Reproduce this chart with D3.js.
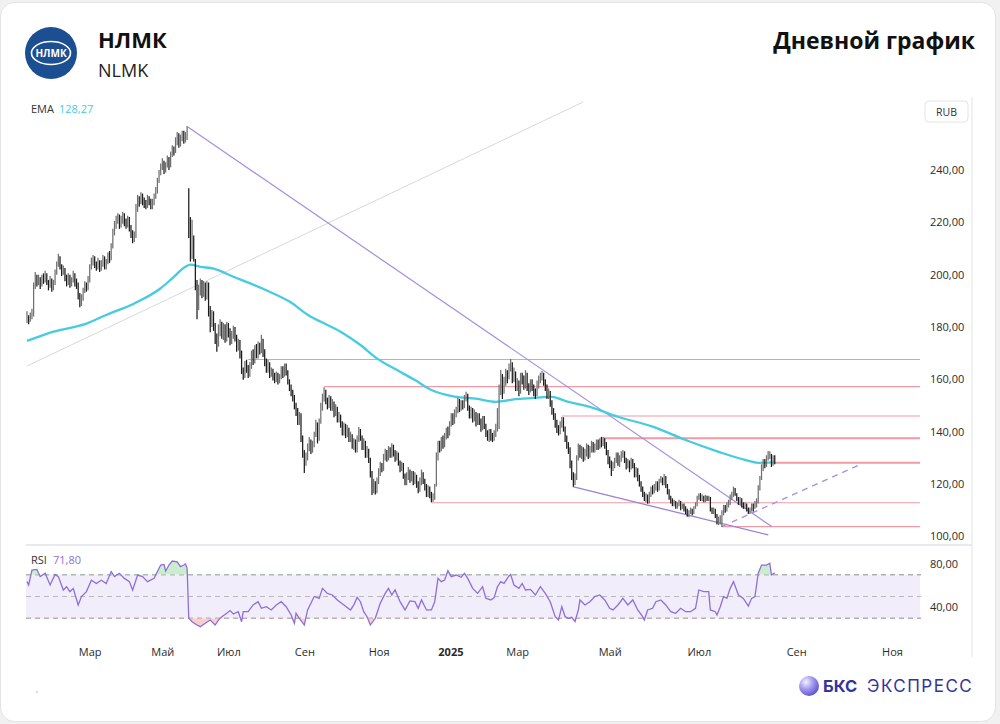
<!DOCTYPE html>
<html>
<head>
<meta charset="utf-8">
<script src="https://cdn.jsdelivr.net/npm/d3@7"></script>
<style>
  html, body { margin: 0; padding: 0; background: #f1f1f1; }
  svg { display: block; font-family: "Open Sans", "Noto Sans", sans-serif; }
</style>
</head>
<body>
<svg id="chart" width="1000" height="724"></svg>
<script>
// daily bars, NLMK, one entry per session
const closes = [
  183, 182.5, 184, 185, 196, 199, 197, 198.5, 196, 199,
  198, 200, 197, 195.5, 198, 194.5, 197, 201, 204, 206.5,
  203, 201, 202, 199, 197, 199.5, 196.5, 198, 200, 197,
  196, 192, 189, 191, 194, 196, 195, 198, 203, 205,
  206, 204, 203, 205, 202.5, 204, 206, 203, 205, 207,
  206, 211, 216, 219, 221, 222, 219, 221, 223, 220,
  219, 221, 218, 216, 213.5, 215, 226, 229, 228, 230,
  228, 227, 226.5, 229, 228, 226, 227.5, 230, 232, 236,
  239, 241, 243, 240, 242, 244, 241.5, 246, 248, 247,
  251, 253, 250, 252, 254, 251.5, 253, 254, 216, 208,
  213, 208, 196, 189, 194, 197, 193, 196, 192, 195,
  186, 182, 185, 180, 176, 174, 178, 181, 177, 179,
  176, 180, 178, 175, 177, 179, 176, 172, 174, 170,
  163, 161, 166, 164, 162, 165, 170, 167, 172, 169,
  173, 171, 175, 170, 167, 164, 166, 162, 163, 161,
  160, 162, 159, 161, 164, 162, 165, 163, 159, 157,
  155, 153, 150, 148, 144, 146, 137, 132, 128, 130,
  134, 136, 133, 135, 139, 143, 137, 144, 150, 153,
  155, 152, 150, 153, 149, 151, 147, 149, 145, 146,
  143, 140, 142, 139, 141, 137, 138, 135, 136, 133,
  137, 140, 138, 134, 136, 131, 133, 129, 124, 118,
  120, 117, 121, 124, 127, 126, 130, 132, 130, 133,
  131, 134, 132, 130, 131, 128, 126, 127, 123, 121,
  123, 125, 122, 124, 121, 123, 120, 118, 121, 124,
  121, 119, 116, 118, 116, 114, 115, 119, 131, 135,
  133, 137, 135, 138, 141, 139, 143, 146, 144, 147,
  148, 152, 149, 151, 150, 153, 154, 149, 146, 148,
  145, 147, 143, 146, 144, 141, 145, 142, 139, 138,
  140, 138, 137, 139, 142, 148, 156, 160, 157, 159,
  162, 161, 165, 166, 160, 163, 157, 159, 155, 161,
  160, 158, 162, 157, 156, 159, 157, 155, 154, 158,
  160, 161, 162, 159, 157, 154, 155, 151, 148, 146,
  143, 141, 140, 143, 145, 141, 137, 135, 133, 128,
  123, 120, 122, 130, 134, 131, 133, 130, 132, 134,
  131, 133, 135, 133, 134, 136, 134, 137, 135, 137,
  135, 132, 129, 128, 126, 127, 129, 131, 128, 130,
  131, 132, 129, 127, 128, 126, 129, 127, 124, 125,
  122, 120, 118, 116, 114, 115, 113, 116, 118, 117,
  119, 120, 118, 121, 122, 120, 123, 119, 117, 115,
  114, 112.5, 113, 111.5, 112, 113, 111, 112, 110.5, 110,
  108.5, 109, 110, 109, 111, 112, 115, 116, 114.5, 115,
  114, 115, 114.5, 115, 110, 109.5, 110, 108, 105.5, 106,
  107, 109, 111, 110, 112, 113, 115, 116, 118, 116,
  114, 113, 114, 112, 111.5, 112, 110.5, 109, 110, 111.5,
  111, 112, 113, 118, 122, 126, 128, 127, 130, 131,
  131, 127.5, 130, 129
];

const highs = [
  186, 184.5, 185.5, 187, 197, 201, 200, 200, 199, 200,
  200.5, 201.5, 200.5, 198, 199.5, 198.5, 198, 202, 205, 208,
  207, 204, 203.5, 202.5, 200, 200.5, 200, 199, 201.5, 200.5,
  198.5, 197, 193, 192.5, 195, 197.5, 197, 199.5, 204, 206.5,
  207.5, 207, 205, 206.5, 205.5, 205.5, 207.5, 207, 206, 208.5,
  209, 212, 217.5, 220.5, 222.5, 223.5, 223, 222.5, 224, 223.5,
  221.5, 222.5, 222, 219, 217, 216.5, 227, 230.5, 230, 231.5,
  231, 229.5, 228.5, 230.5, 230, 229, 229, 231, 233.5, 237,
  240, 242.5, 244.5, 243.5, 243, 245.5, 245, 247, 249.5, 249,
  252.5, 254.5, 254, 253.5, 255, 255, 254.5, 256.8, 233, 222,
  221, 215, 206, 198, 196, 198.5, 198, 197.5, 197, 197.5,
  197, 188, 186.5, 186, 181.5, 177.5, 181, 183, 182, 181.5,
  181, 182, 181.5, 179.5, 178.5, 180.5, 180, 177, 175.5, 175,
  171, 164.5, 167, 167.5, 165.5, 166.5, 171, 171.5, 173, 173.5,
  174.5, 174, 177, 175.5, 171.5, 168, 167.5, 166.5, 164.5, 164,
  162.5, 163, 162.5, 162, 165, 165, 166, 166, 163.5, 160,
  158, 156, 154, 151, 149, 147.5, 147, 138.5, 133, 132,
  135.5, 138, 137, 136.5, 140, 144.5, 143.5, 145, 151, 154.5,
  157, 156, 153, 154, 153.5, 152.5, 151.5, 150.5, 149.5, 147.5,
  146.5, 144, 143.5, 143, 142.5, 141.5, 140, 139, 137.5, 137,
  138.5, 141.8, 141, 138.5, 137.5, 136.5, 134.5, 133.5, 130, 125,
  122, 121, 122.5, 126, 128.5, 128, 131.5, 133.5, 133, 134.5,
  134, 135.6, 135, 133, 132.5, 132, 129, 128.5, 128, 124,
  124.5, 126.5, 125.5, 125, 125, 124.5, 123.5, 121, 122.5, 125.5,
  124.5, 122, 120, 119.5, 119, 117, 116.5, 120, 132, 136.5,
  136.5, 138, 138.5, 139.5, 141.5, 142, 144, 147, 147, 148.5,
  149.5, 153, 152.5, 152, 152, 154, 155.2, 154.5, 150, 149.5,
  149, 148.5, 147.5, 147, 147, 145, 146, 146, 143, 140.5,
  141, 141, 139.5, 140.5, 143, 149, 158, 163.6, 162, 161,
  164, 163.5, 166, 167.8, 166.5, 164.5, 163, 160.5, 159.5, 162.5,
  162.5, 161.5, 163.5, 162.5, 158.5, 160, 160, 158, 156.5, 159.5,
  161.5, 162.5, 163.2, 162.5, 160, 158, 156.5, 155.5, 152, 149,
  147, 144.5, 142.5, 144, 145.6, 145.5, 142, 138.5, 136, 134,
  129, 124.5, 124, 131, 135.5, 135, 134.5, 134, 133.5, 135.5,
  135, 134.5, 136.5, 136, 135.5, 137, 137, 137.5, 138, 138,
  137.5, 136, 133, 130.5, 129, 128.5, 130, 132, 132, 131,
  132.5, 133, 132.5, 130, 129.5, 129, 130, 129.5, 128, 126.5,
  126, 123.5, 121, 119, 117, 116.5, 116, 117, 119, 119.5,
  120, 121, 121, 122, 123, 122.5, 123.8, 123, 120, 118,
  115.5, 114.5, 114, 113.5, 113, 114, 113.5, 112.5, 112.5, 111.5,
  110.5, 110, 111, 110.5, 111.5, 113, 115.5, 116.4, 116.5, 116,
  115.5, 115.8, 115.5, 115.5, 115, 111, 111, 110.5, 108.5, 107.5,
  108, 110, 112, 112, 113, 114, 116, 117, 119, 118.5,
  116.5, 115, 115, 114.5, 113, 113, 112.5, 111, 111, 112.5,
  112.5, 113.5, 114.5, 119.5, 123, 127.5, 129.5, 129.5, 131, 132.6,
  132.5, 131.5, 131, 131
];

const lows = [
  181.5, 181, 182, 183, 184, 194.5, 195.5, 196, 194.5, 195.5,
  196.5, 197, 196, 194, 195, 193.5, 194, 196, 200, 203,
  202, 199.5, 200, 197.5, 195.5, 196, 195, 195.5, 197, 195.5,
  194.5, 190.5, 187.5, 188, 190, 193, 193.5, 194, 197, 202,
  203.5, 202.5, 201.5, 202, 201, 201.5, 203, 202, 202, 204,
  204.5, 205.5, 210, 215, 217.5, 219.5, 217.5, 218, 219.5, 218.5,
  217.5, 218, 216.5, 214, 212, 212.5, 214, 224, 226, 227,
  226.5, 225.5, 225, 225.5, 226.5, 225, 225, 226.5, 229, 231,
  235, 238, 240, 238.5, 239, 241, 240, 241, 245, 245.5,
  246.5, 249.5, 248.5, 249, 251, 250, 250.5, 251.5, 214, 205,
  206, 205, 194, 183, 186.5, 192, 191, 191.5, 190, 190.5,
  184, 178, 180, 178.5, 173.5, 170.5, 172.5, 176.5, 175.5, 175,
  174, 174.5, 176, 173, 173.5, 175.5, 174.5, 170.5, 171, 168,
  162, 159.8, 160.5, 162.5, 160.5, 161, 164, 165.5, 166, 168,
  168, 169.5, 170, 168.5, 165, 162.5, 162.5, 160.5, 161, 159.5,
  158.5, 159, 158, 158.5, 160, 160.5, 161, 161.5, 158, 155.5,
  153.5, 151.5, 148.5, 146, 142.5, 142.5, 136, 130, 124.2, 127,
  129, 132.5, 131.5, 132, 134, 138, 135.5, 136.5, 143, 148,
  151.5, 150.5, 148.5, 149, 148, 148, 145.5, 146, 143.5, 143.5,
  141.5, 138.5, 138.5, 137.5, 138, 136, 136, 133.5, 133, 132,
  132, 136, 136.5, 133, 133, 130, 130, 128, 122.5, 115.8,
  116.5, 116, 116.5, 120, 123, 124.5, 125, 129, 128.5, 129,
  130, 130, 130.5, 128.5, 129, 127, 124.5, 125, 122, 119.5,
  119.5, 121.5, 120.5, 121, 119.5, 120, 118.5, 116.5, 117, 119.5,
  120, 117.5, 115, 115, 114.5, 113, 113.2, 114, 119, 129,
  132, 132.5, 133.5, 134, 137, 137.5, 138.5, 142, 142.5, 143,
  145.5, 147, 147.5, 148, 148.5, 149, 151.5, 148, 145, 145,
  143.5, 144, 142, 142.5, 142.5, 140, 140.5, 141, 138, 136.5,
  136, 136.5, 136, 136.5, 138, 140, 141, 154, 152.5, 154.5,
  157.5, 158.5, 160, 163, 158.5, 159, 155.5, 155.5, 153.5, 154.5,
  158, 156, 156.5, 155.5, 154, 155, 155.5, 153.5, 152.5, 153.5,
  156.5, 158.5, 159.5, 157.5, 155.5, 152.5, 152.5, 149.5, 146.5, 144.5,
  141.5, 139.5, 138.5, 139, 141.5, 140, 136, 133.5, 131.5, 126,
  121.5, 119, 119.5, 121.5, 129, 130, 129.5, 128.5, 129, 130.5,
  129.5, 130, 132, 132, 132, 133, 133, 133.5, 134, 134.5,
  133.5, 131, 127.5, 126, 123, 125, 126, 128, 127, 126.5,
  128.5, 130, 128, 125.5, 126, 124.5, 125.5, 126, 122.5, 122.5,
  121, 119, 117, 115, 113.5, 113, 112.4, 112.5, 115, 116,
  116.5, 117.5, 117, 117.5, 120.5, 119.5, 119.5, 118.5, 116, 114,
  112.5, 111.5, 111.5, 110.5, 110.5, 111.5, 110, 110.5, 109.5, 108.5,
  107.5, 107.3, 108.5, 108, 108.5, 110.5, 111.5, 114, 113.5, 113.5,
  113, 113, 113.5, 113.5, 109.5, 108.5, 108.5, 107, 104.5, 104.3,
  104.5, 103.6, 108, 109, 109.5, 111, 112, 114, 115, 115.5,
  113.5, 112, 112, 111, 110.5, 110.5, 109.5, 108.5, 108.5, 109.5,
  109.5, 110.5, 111, 112.5, 117.5, 121.5, 125, 126, 126.5, 129,
  129.5, 126.5, 127, 127.5
];

// EMA readings [bar, value]
const emaPoints = [
  [0, 174.7], [11, 177.2], [16, 178.2], [36, 181.3], [48, 184.6], [65, 189], [81, 194.8],
  [88, 198.6], [96, 203], [99, 203.8], [105, 203], [113, 202.3], [125, 199.2], [143, 194.6],
  [159, 189.7], [172, 183.9], [178, 182], [190, 178.2], [202, 173.1], [212, 168], [226, 162.9],
  [235, 159.7], [245, 155.9], [259, 153.4], [272, 152.6], [284, 151.4], [296, 152.4],
  [308, 152.9], [317, 153.4], [328, 151.4], [341, 149.5], [358, 145.7], [379, 141.9],
  [399, 136.8], [419, 132.3], [435, 129.2], [443, 128.1], [453, 128.27]
];

// RSI readings [bar, value]
const rsiPoints = [
  [0, 63.7], [1, 60.6], [3, 74.4], [6, 75], [8, 68.3], [11, 71.4], [14, 60.6], [17, 70.4], [19, 68.3],
  [22, 56], [24, 59], [26, 54.5], [28, 57.5], [31, 42.2], [33, 50], [36, 54.5], [39, 65], [42, 62],
  [45, 65], [48, 62], [51, 73], [53, 68.3], [56, 71.4], [59, 66.7], [62, 63.7], [64, 56], [67, 69.8],
  [70, 68.3], [73, 63.7], [77, 66.7], [79, 73], [81, 79], [83, 79.6], [84, 73.5], [86, 79], [88, 82.7],
  [91, 82], [93, 77.5], [95, 79], [96, 80], [97, 76], [98, 29.9], [100, 26.8], [103, 23.7], [105, 22.2],
  [108, 25.3], [111, 28.3], [114, 23.7], [116, 28.3], [118, 31.4], [121, 34.5], [123, 37], [125, 33.9],
  [128, 36], [130, 26.8], [131, 36], [134, 36], [137, 42.2], [140, 45.2], [142, 39.1], [145, 40.6],
  [148, 37.6], [151, 42.2], [154, 45.2], [157, 40.6], [160, 33], [162, 25.3], [163, 34.5], [165, 29.9],
  [168, 23.7], [170, 37.6], [174, 50], [177, 48.3], [179, 57.5], [182, 52.9], [185, 51.4], [188, 46.8],
  [192, 42.2], [196, 37.6], [198, 42.2], [200, 49.2], [202, 45.2], [204, 36], [206, 31.4], [208, 23.7],
  [211, 29.9], [214, 43.7], [217, 52.9], [219, 57.5], [221, 51.4], [223, 56], [226, 45.2], [229, 37.6],
  [232, 45.9], [235, 45.2], [237, 39.1], [239, 46.8], [242, 37.6], [245, 37.6], [247, 45.2], [249, 66.7],
  [251, 63.7], [253, 65.2], [255, 73.8], [257, 68.3], [260, 69.8], [263, 67.7], [265, 71.4], [267, 66.7],
  [270, 57.5], [273, 52.9], [276, 59], [278, 48.3], [281, 46.8], [283, 49], [285, 59], [287, 63.7],
  [289, 62], [292, 68.9], [293, 70.4], [295, 60.6], [298, 57.5], [300, 62], [302, 56], [305, 56.6],
  [308, 51.4], [311, 59], [314, 52.9], [317, 45.2], [320, 31.4], [322, 28.3], [324, 40.6], [326, 31.4],
  [328, 29.9], [330, 30.8], [332, 26.8], [334, 37.6], [335, 46.8], [338, 42.2], [341, 45.2], [344, 50],
  [347, 51.4], [350, 46.8], [353, 39.1], [355, 37.6], [358, 42.2], [361, 48.3], [364, 42.2], [367, 46.8],
  [370, 37.6], [373, 31.4], [374, 28.3], [376, 37.6], [379, 39.1], [381, 45.2], [384, 46.8], [387, 42.2],
  [390, 36], [393, 34.5], [396, 39.1], [399, 36], [402, 36], [405, 39.1], [407, 56], [410, 54.5],
  [413, 54.5], [414, 37.6], [417, 36], [418, 33], [420, 40.6], [422, 50], [424, 48.3], [426, 57.5],
  [428, 63.7], [431, 51.4], [434, 48.3], [437, 41.2], [439, 48.3], [441, 50], [443, 71.4], [445, 79],
  [448, 79], [450, 80.6], [451, 69.8], [453, 71.8]
];

// horizontal levels and where they start (bar index)
const levelValues = [167.6, 157.2, 146, 137.5, 128.1, 112.8, 103.7];
const levelStarts = [134, 180, 324, 349, 453, 245, 421];

// drawn trend lines, [bar, value] end points
const grayLine = [[0, 165.1], [337, 266]];
const downTrend = [[97.5, 256.4], [451.2, 103.7]];
const wedgeLow = [[330.6, 119], [449.1, 100.5]];
const dashedTrend = [[420.9, 103.7], [505, 127.5]];

const monthBars = [38, 82, 122, 168, 213, 256.5, 297, 353, 407, 466, 524];
const monthLabels = ["Мар", "Май", "Июл", "Сен", "Ноя", "2025", "Мар", "Май", "Июл", "Сен", "Ноя"];
const priceTicks = [100, 120, 140, 160, 180, 200, 220, 240];
const rsiTicks = [40, 80];
const emaLast = "128,27";
const rsiLast = "71,80";

const svg = d3.select("#chart");
const fmt = v => d3.format(".2f")(v).replace(".", ",");

// card
svg.append("rect")
    .attr("x", 0.5).attr("y", 2.5).attr("width", 995).attr("height", 719)
    .attr("rx", 14).attr("fill", "#fff").attr("stroke", "#e3e3e3");

// scales
const x = d3.scaleLinear().domain([0, 541]).range([27, 920]);
const y = d3.scaleLinear().domain([100, 240]).range([536.3, 170]);
const yR = d3.scaleLinear().domain([30, 70]).range([618.2, 574.8]);

const defs = svg.append("defs");
defs.append("clipPath").attr("id", "clipPrice")
    .append("rect").attr("x", 24).attr("y", 97).attr("width", 896).attr("height", 446);
defs.append("clipPath").attr("id", "clipUp")
    .append("rect").attr("x", 0).attr("y", 548).attr("width", 1000).attr("height", yR(70) - 548);
defs.append("clipPath").attr("id", "clipDown")
    .append("rect").attr("x", 0).attr("y", yR(30)).attr("width", 1000).attr("height", 640 - yR(30));
const grad = defs.append("radialGradient").attr("id", "bksBall")
    .attr("cx", "35%").attr("cy", "30%").attr("r", "75%");
grad.append("stop").attr("offset", "0%").attr("stop-color", "#f4f2ff");
grad.append("stop").attr("offset", "45%").attr("stop-color", "#a79ff0");
grad.append("stop").attr("offset", "100%").attr("stop-color", "#5a4fd0");

// header
const logo = svg.append("g").attr("transform", "translate(51,53)");
logo.append("circle").attr("r", 26).attr("fill", "#1c4f92");
logo.append("ellipse").attr("rx", 19.5).attr("ry", 11.5)
    .attr("fill", "none").attr("stroke", "#fff").attr("stroke-width", 1.6);
logo.append("text").attr("text-anchor", "middle").attr("y", 3.6)
    .attr("fill", "#fff").attr("font-size", 10).attr("font-weight", 700).text("НЛМК");

svg.append("text").attr("x", 98).attr("y", 48).attr("font-size", 22).attr("font-weight", 700)
    .attr("fill", "#111").text("НЛМК");
svg.append("text").attr("x", 98).attr("y", 77).attr("font-size", 18)
    .attr("fill", "#222").text("NLMK");
svg.append("text").attr("x", 975).attr("y", 49).attr("text-anchor", "end")
    .attr("font-size", 23).attr("font-weight", 700).attr("fill", "#111").text("Дневной график");

// pane frame
svg.append("line").attr("x1", 972).attr("x2", 972).attr("y1", 97).attr("y2", 657)
    .attr("stroke", "#ececec").attr("stroke-width", 1.5);
svg.append("line").attr("x1", 26).attr("x2", 972).attr("y1", 545).attr("y2", 545)
    .attr("stroke", "#e8e8ef").attr("stroke-width", 2);

// price pane
const gp = svg.append("g").attr("clip-path", "url(#clipPrice)");
const seg = d => gp.append("line")
    .attr("x1", x(d[0][0])).attr("y1", y(d[0][1]))
    .attr("x2", x(d[1][0])).attr("y2", y(d[1][1]));

seg(grayLine).attr("stroke", "#d8d8d8").attr("stroke-width", 1);

// levels: the two nearest to the price are drawn heavier
gp.append("g").selectAll("line").data(levelValues).join("line")
    .attr("x1", (d, i) => x(levelStarts[i])).attr("x2", 920)
    .attr("y1", d => y(d)).attr("y2", d => y(d))
    .attr("stroke", "#f29aa3")
    .attr("stroke-width", (d, i) => (i === 3 || i === 4) ? 2 : 1.1);

seg(downTrend).attr("stroke", "#a48fdc").attr("stroke-width", 1.2);
seg(wedgeLow).attr("stroke", "#9a82d8").attr("stroke-width", 1.3);
seg(dashedTrend).attr("stroke", "#a48fdc").attr("stroke-width", 1.2).attr("stroke-dasharray", "6,5");

gp.append("path").datum(emaPoints)
    .attr("fill", "none").attr("stroke", "#46cbe0").attr("stroke-width", 2.3)
    .attr("d", d3.line().x(d => x(d[0])).y(d => y(d[1])).curve(d3.curveMonotoneX));

gp.append("g").selectAll("line").data(closes).join("line")
    .attr("x1", (d, i) => x(i)).attr("x2", (d, i) => x(i))
    .attr("y1", (d, i) => y(highs[i])).attr("y2", (d, i) => y(lows[i]))
    .attr("stroke", (d, i) => i > 0 && d < closes[i - 1] ? "#1b1b1b" : "#707070")
    .attr("stroke-width", 1.25);

// price axis
const ay = svg.append("g").attr("transform", "translate(924,0)")
    .call(d3.axisRight(y).tickValues(priceTicks).tickFormat(fmt).tickSize(0).tickPadding(6));
ay.select(".domain").remove();
ay.selectAll("text").attr("font-size", 11).attr("fill", "#2b2b2b").attr("font-family", "Open Sans");

const rub = svg.append("g").attr("transform", "translate(925,101)");
rub.append("rect").attr("width", 43).attr("height", 21).attr("rx", 4)
    .attr("fill", "#fff").attr("stroke", "#e4e4e4");
rub.append("text").attr("x", 21.5).attr("y", 14.5).attr("text-anchor", "middle")
    .attr("font-size", 10.5).attr("fill", "#333").text("RUB");

svg.append("text").attr("x", 31).attr("y", 113).attr("font-size", 11).attr("fill", "#333").text("EMA");
svg.append("text").attr("x", 59).attr("y", 113).attr("font-size", 11).attr("fill", "#46cbe0").text(emaLast);

// RSI pane
const gr = svg.append("g");
gr.append("rect").attr("x", 26).attr("y", yR(70)).attr("width", 920 - 26)
    .attr("height", yR(30) - yR(70)).attr("fill", "#f1edfb");
[70, 50, 30].forEach(v => {
    gr.append("line").attr("x1", 26).attr("x2", 921).attr("y1", yR(v)).attr("y2", yR(v))
        .attr("stroke", v === 50 ? "#b9b9b9" : "#8e8e8e").attr("stroke-width", 1)
        .attr("stroke-dasharray", "5,4");
});

const rx = d => x(d[0]);
gr.append("path").datum(rsiPoints).attr("clip-path", "url(#clipUp)")
    .attr("fill", "#c6eacb").attr("opacity", 0.9)
    .attr("d", d3.area().x(rx).y0(yR(70)).y1(d => yR(d[1])));
gr.append("path").datum(rsiPoints).attr("clip-path", "url(#clipDown)")
    .attr("fill", "#f8c9c9").attr("opacity", 0.9)
    .attr("d", d3.area().x(rx).y0(yR(30)).y1(d => yR(d[1])));
gr.append("path").datum(rsiPoints)
    .attr("fill", "none").attr("stroke", "#8e6fd8").attr("stroke-width", 1.3)
    .attr("d", d3.line().x(rx).y(d => yR(d[1])));

const ar = svg.append("g").attr("transform", "translate(924,0)")
    .call(d3.axisRight(yR).tickValues(rsiTicks).tickFormat(fmt).tickSize(0).tickPadding(6));
ar.select(".domain").remove();
ar.selectAll("text").attr("font-size", 11).attr("fill", "#2b2b2b").attr("font-family", "Open Sans");

svg.append("text").attr("x", 31).attr("y", 564).attr("font-size", 11).attr("fill", "#333").text("RSI");
svg.append("text").attr("x", 53).attr("y", 564).attr("font-size", 11).attr("fill", "#8e6fd8").text(rsiLast);

// time axis
const ax = svg.append("g").attr("transform", "translate(0,648)")
    .call(d3.axisBottom(x).tickValues(monthBars).tickFormat((d, i) => monthLabels[i]).tickSize(0).tickPadding(0));
ax.select(".domain").remove();
ax.selectAll("text").attr("font-size", 11).attr("fill", "#2b2b2b").attr("font-family", "Open Sans")
    .attr("font-weight", (d, i) => monthLabels[i] === "2025" ? 700 : 400);

// footer
svg.append("circle").attr("cx", 37).attr("cy", 692).attr("r", 0.8).attr("fill", "#aaa");
svg.append("circle").attr("cx", 809).attr("cy", 686).attr("r", 10).attr("fill", "url(#bksBall)");
svg.append("text").attr("x", 823).attr("y", 692).attr("font-family", "Inter").attr("font-size", 16.5)
    .attr("font-weight", 700).attr("fill", "#35339a").text("БКС");
svg.append("text").attr("x", 867).attr("y", 692).attr("font-family", "Inter").attr("font-size", 17)
    .attr("font-weight", 400).attr("letter-spacing", 1.5).attr("fill", "#35339a").text("ЭКСПРЕСС");
</script>
</body>
</html>
